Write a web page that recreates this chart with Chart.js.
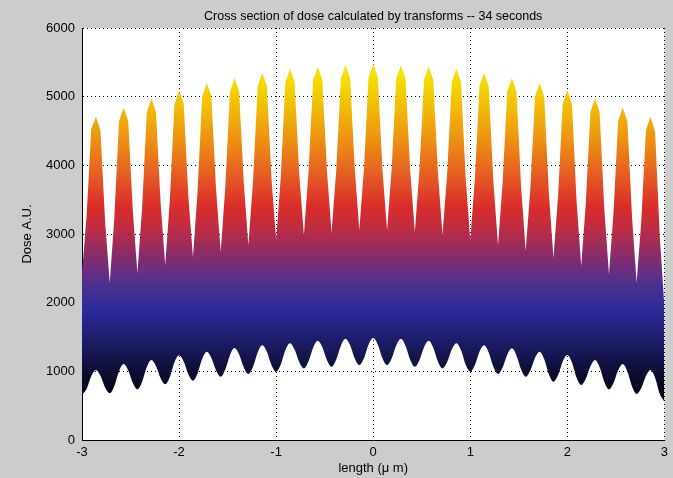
<!DOCTYPE html>
<html>
<head>
<meta charset="utf-8">
<script src="https://cdn.jsdelivr.net/npm/chart.js@4"></script>
<style>
  body { margin: 0; background: #cccccc; }
  #wrap { width: 673px; height: 478px; }
</style>
</head>
<body>
<div id="wrap"><canvas id="myChart" width="673" height="478"></canvas></div>
<script>
// sample positions along the cross section (um)
const lengthUm = [
  -3.000, -2.952, -2.905, -2.857, -2.810, -2.762, -2.714, -2.667, -2.619, -2.571,
  -2.524, -2.476, -2.429, -2.381, -2.333, -2.286, -2.238, -2.190, -2.143, -2.095,
  -2.048, -2.000, -1.952, -1.905, -1.857, -1.810, -1.762, -1.714, -1.667, -1.619,
  -1.571, -1.524, -1.476, -1.429, -1.381, -1.333, -1.286, -1.238, -1.190, -1.143,
  -1.095, -1.048, -1.000, -0.952, -0.905, -0.857, -0.810, -0.762, -0.714, -0.667,
  -0.619, -0.571, -0.524, -0.476, -0.429, -0.381, -0.333, -0.286, -0.238, -0.190,
  -0.143, -0.095, -0.048, 0.000, 0.048, 0.095, 0.143, 0.190, 0.238, 0.286,
  0.333, 0.381, 0.429, 0.476, 0.524, 0.571, 0.619, 0.667, 0.714, 0.762,
  0.810, 0.857, 0.905, 0.952, 1.000, 1.048, 1.095, 1.143, 1.190, 1.238,
  1.286, 1.333, 1.381, 1.429, 1.476, 1.524, 1.571, 1.619, 1.667, 1.714,
  1.762, 1.810, 1.857, 1.905, 1.952, 2.000, 2.048, 2.095, 2.143, 2.190,
  2.238, 2.286, 2.333, 2.381, 2.429, 2.476, 2.524, 2.571, 2.619, 2.667,
  2.714, 2.762, 2.810, 2.857, 2.905, 2.952, 3.000
]

// top edge of the dose band
const doseUpper = [
  2430, 3272, 4524, 4706, 4512, 3181, 2285, 3231, 4638, 4843,
  4650, 3323, 2430, 3371, 4770, 4974, 4780, 3447, 2550, 3490,
  4887, 5090, 4896, 3559, 2660, 3600, 4997, 5200, 5003, 3650,
  2740, 3677, 5069, 5272, 5077, 3737, 2835, 3766, 5149, 5350,
  5155, 3813, 2910, 3835, 5210, 5410, 5216, 3879, 2980, 3890,
  5243, 5440, 5246, 3915, 3020, 3923, 5265, 5460, 5268, 3945,
  3055, 3952, 5286, 5480, 5286, 3952, 3055, 3945, 5268, 5460,
  5266, 3929, 3030, 3922, 5247, 5440, 5244, 3893, 2985, 3882,
  5216, 5410, 5210, 3835, 2910, 3813, 5155, 5350, 5149, 3766,
  2835, 3737, 5077, 5272, 5071, 3686, 2755, 3660, 5004, 5200,
  4996, 3594, 2650, 3553, 4895, 5090, 4886, 3480, 2535, 3437,
  4779, 4974, 4769, 3362, 2415, 3313, 4649, 4843, 4639, 3235,
  2290, 3184, 4513, 4706, 4486, 2970, 1950
]

// bottom edge of the dose band
const doseLower = [
  655, 746, 929, 1020, 935, 765, 680, 786, 999, 1105,
  1013, 830, 738, 845, 1058, 1165, 1077, 900, 811, 917,
  1129, 1235, 1142, 957, 864, 969, 1180, 1285, 1194, 1013,
  922, 1027, 1236, 1340, 1245, 1056, 961, 1066, 1275, 1380,
  1284, 1091, 995, 1099, 1306, 1410, 1318, 1135, 1043, 1143,
  1344, 1445, 1351, 1162, 1067, 1169, 1373, 1475, 1379, 1188,
  1092, 1190, 1387, 1485, 1387, 1190, 1092, 1188, 1379, 1475,
  1373, 1169, 1067, 1162, 1351, 1445, 1344, 1143, 1043, 1135,
  1318, 1410, 1306, 1099, 995, 1091, 1284, 1380, 1275, 1066,
  961, 1055, 1242, 1335, 1232, 1025, 922, 1013, 1194, 1285,
  1176, 958, 849, 946, 1140, 1237, 1128, 909, 800, 891,
  1073, 1164, 1058, 845, 738, 830, 1014, 1106, 997, 779,
  670, 757, 932, 1019, 904, 673, 558
]

// colour map stops (dose value -> colour)
const mapDose = [0, 600, 1000, 1400, 1900, 2300, 2700, 3100, 3400, 3800, 4300, 4800, 5200, 5600, 6000]
const mapColor = ['#000000', '#03030c', '#0d0d34', '#1b1b64', '#2b2b9a', '#52308c', '#8a2c6a', '#c02c40',
  '#da2c2a', '#e45624', '#ec8a14', '#f0b808', '#f4d800', '#f8ec30', '#fafa60']

const xTicks = [-3, -2, -1, 0, 1, 2, 3]

const font = { family: 'Liberation Sans, Arial, sans-serif', size: 13 }

function doseGradient(context){
    const chart = context.chart
    const {ctx, chartArea, scales} = chart
    if(!chartArea) return 'transparent'
    const y0 = scales.y.getPixelForValue(0)
    const y1 = scales.y.getPixelForValue(6000)
    const g = ctx.createLinearGradient(0, y0, 0, y1)
    mapDose.forEach((d, i) => g.addColorStop(d / 6000, mapColor[i]))
    return g
}

const plotBg = {
    id: 'plotBg',
    beforeDraw(chart){
        const {ctx, chartArea: a} = chart
        ctx.save()
        ctx.fillStyle = '#ffffff'
        ctx.fillRect(a.left, a.top, a.right - a.left, a.bottom - a.top)
        ctx.restore()
    }
}

const data = {
    datasets: [{
        label: 'lower',
        data: lengthUm.map((x, i) => ({x: x, y: doseLower[i]})),
        borderColor: 'transparent',
        borderWidth: 0,
        pointRadius: 0,
        cubicInterpolationMode: 'monotone',
        fill: false
    }, {
        label: 'upper',
        data: lengthUm.map((x, i) => ({x: x, y: doseUpper[i]})),
        borderColor: 'transparent',
        borderWidth: 0,
        pointRadius: 0,
        tension: 0,
        backgroundColor: doseGradient,
        fill: {target: 0}
    }]
}

const config = {
    type: 'line',
    data: data,
    plugins: [plotBg],
    options: {
        responsive: false,
        animation: false,
        layout: { padding: { left: 0, right: 7, top: 0, bottom: 2 } },
        plugins: {
            legend: { display: false },
            tooltip: { enabled: false },
            title: {
                display: true,
                fullSize: false,
                text: 'Cross section of dose calculated by transforms -- 34 seconds',
                color: '#000',
                font: { family: font.family, size: 12.5, weight: 'normal' },
                padding: { top: 9, bottom: 4 }
            }
        },
        scales: {
            x: {
                type: 'linear',
                min: -3,
                max: 3,
                afterBuildTicks: scale => { scale.ticks = xTicks.map(v => ({value: v})) },
                afterFit: scale => { scale.height = 36 },
                ticks: { color: '#000', font: font, padding: 5, maxRotation: 0 },
                grid: { color: '#000', lineWidth: 1, drawTicks: false },
                border: { color: '#000', width: 1, dash: [1, 3] },
                title: { display: true, text: 'length (\u03bc m)', color: '#000', font: font, padding: 0 }
            },
            y: {
                min: 0,
                max: 6000,
                afterFit: scale => { scale.width = 82 },
                ticks: { stepSize: 1000, color: '#000', font: font, padding: 7, callback: v => String(v) },
                grid: { color: '#000', lineWidth: 1, drawTicks: false },
                border: { color: '#000', width: 1, dash: [1, 3] },
                title: { display: true, text: 'Dose A.U.', color: '#000', font: font, padding: { top: 20, bottom: 0 } }
            }
        }
    }
}

new Chart(document.getElementById('myChart'), config)
</script>
</body>
</html>
